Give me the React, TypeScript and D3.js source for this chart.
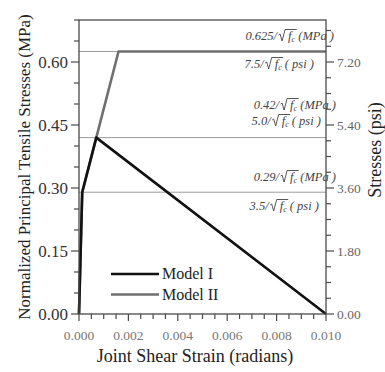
import React, { useRef, useEffect } from "react";
import * as d3 from "d3";

const strainModelI = [0, 0.00013, 0.0007, 0.01];
const stressModelI = [0, 0.29, 0.42, 0];
const strainModelII = [0, 0.00013, 0.0007, 0.0016, 0.01];
const stressModelII = [0, 0.29, 0.42, 0.625, 0.625];
const seriesNames = ["Model I", "Model II"];
const seriesColors = ["#111111", "#6f6f6f"];

const refLevels = [0.625, 0.42, 0.29];
const refMpaText = ["0.625/", "0.42/", "0.29/"];
const refPsiText = ["7.5/", "5.0/", "3.5/"];

const leftTicks = [0, 0.15, 0.3, 0.45, 0.6];
const rightTicks = [0, 1.8, 3.6, 5.4, 7.2];
const xTicks = [0, 0.002, 0.004, 0.006, 0.008, 0.01];

const W = 385;
const H = 372;

const App = () => {
  const svgRef = useRef(null);

  useEffect(() => {
    const svg = d3.select(svgRef.current);
    svg.selectAll("*").remove();

    const margin = { top: 20, right: 59, bottom: 58, left: 79 };
    const x0 = margin.left;
    const x1 = W - margin.right;
    const y0 = H - margin.bottom;
    const y1 = margin.top;

    const x = d3.scaleLinear().domain([0, 0.01]).range([x0, x1]);
    const y = d3.scaleLinear().domain([0, 0.7]).range([y0, y1]);
    const y2 = d3.scaleLinear().domain([0, 8.4]).range([y0, y1]);

    const font = "'Liberation Serif', 'Times New Roman', serif";
    const axisColor = "#4a4a4a";

    // reference lines
    refLevels.forEach((v) => {
      svg
        .append("line")
        .attr("x1", x0)
        .attr("x2", x1)
        .attr("y1", y(v))
        .attr("y2", y(v))
        .attr("stroke", "#9a9a9a")
        .attr("stroke-width", 1);
    });

    // series
    const line = d3
      .line()
      .x((d) => x(d[0]))
      .y((d) => y(d[1]));

    const seriesII = strainModelII.map((s, i) => [s, stressModelII[i]]);
    const seriesI = strainModelI.map((s, i) => [s, stressModelI[i]]);

    svg
      .append("path")
      .attr("d", line(seriesII))
      .attr("fill", "none")
      .attr("stroke", seriesColors[1])
      .attr("stroke-width", 2.6)
      .attr("stroke-linejoin", "round");

    svg
      .append("path")
      .attr("d", line(seriesI))
      .attr("fill", "none")
      .attr("stroke", seriesColors[0])
      .attr("stroke-width", 2.6)
      .attr("stroke-linejoin", "round");

    // frame
    svg
      .append("rect")
      .attr("x", x0)
      .attr("y", y1)
      .attr("width", x1 - x0)
      .attr("height", y0 - y1)
      .attr("fill", "none")
      .attr("stroke", axisColor)
      .attr("stroke-width", 1.3);

    // left axis ticks
    d3.range(0, 0.7001, 0.05).forEach((v) => {
      const major = leftTicks.some((t) => Math.abs(t - v) < 1e-6);
      svg
        .append("line")
        .attr("x1", x0)
        .attr("x2", x0 - (major ? 8 : 5))
        .attr("y1", y(v))
        .attr("y2", y(v))
        .attr("stroke", axisColor)
        .attr("stroke-width", 1.2);
    });
    leftTicks.forEach((v) => {
      svg
        .append("text")
        .attr("x", x0 - 11)
        .attr("y", y(v))
        .attr("dy", "0.34em")
        .attr("text-anchor", "end")
        .style("font-family", font)
        .style("font-size", "17px")
        .attr("fill", "#333")
        .text(v.toFixed(2));
    });

    // right axis ticks
    d3.range(0, 8.4001, 0.45).forEach((v) => {
      const major = rightTicks.some((t) => Math.abs(t - v) < 1e-6);
      svg
        .append("line")
        .attr("x1", x1)
        .attr("x2", x1 + (major ? 8 : 5))
        .attr("y1", y2(v))
        .attr("y2", y2(v))
        .attr("stroke", axisColor)
        .attr("stroke-width", 1.2);
    });
    rightTicks.forEach((v) => {
      svg
        .append("text")
        .attr("x", x1 + 11)
        .attr("y", y2(v))
        .attr("dy", "0.34em")
        .style("font-family", font)
        .style("font-size", "13.5px")
        .attr("fill", "#666")
        .text(v.toFixed(2));
    });

    // x axis ticks
    d3.range(0, 0.01001, 0.0005).forEach((v) => {
      const major = xTicks.some((t) => Math.abs(t - v) < 1e-9);
      svg
        .append("line")
        .attr("x1", x(v))
        .attr("x2", x(v))
        .attr("y1", y0)
        .attr("y2", y0 + (major ? 7 : 5))
        .attr("stroke", axisColor)
        .attr("stroke-width", 1.2);
    });
    xTicks.forEach((v) => {
      svg
        .append("text")
        .attr("x", x(v))
        .attr("y", y0 + 26)
        .attr("text-anchor", "middle")
        .style("font-family", font)
        .style("font-size", "13.5px")
        .attr("fill", "#777")
        .text(v.toFixed(3));
    });

    // axis titles
    svg
      .append("text")
      .attr("x", 195)
      .attr("y", 362)
      .attr("text-anchor", "middle")
      .style("font-family", font)
      .style("font-size", "18px")
      .attr("fill", "#222")
      .text("Joint Shear Strain (radians)");

    svg
      .append("text")
      .attr("transform", `translate(30,${(y0 + y1) / 2}) rotate(-90)`)
      .attr("text-anchor", "middle")
      .style("font-family", font)
      .style("font-size", "17px")
      .attr("fill", "#222")
      .text("Normalized Principal Tensile Stresses (MPa)");

    svg
      .append("text")
      .attr("transform", `translate(381,150) rotate(-90)`)
      .attr("text-anchor", "middle")
      .style("font-family", font)
      .style("font-size", "18px")
      .attr("fill", "#222")
      .text("Stresses (psi)");

    // annotations with radical sign
    const annot = (prefix, unit, rightX, baseY) => {
      const g = svg.append("g");
      const t = g
        .append("text")
        .attr("y", baseY)
        .style("font-family", font)
        .style("font-style", "italic")
        .style("font-size", "12.5px")
        .attr("fill", "#444");
      t.append("tspan").text(prefix);
      t.append("tspan").attr("dx", 11).text("f");
      t.append("tspan")
        .attr("dy", 2)
        .style("font-size", "8px")
        .text("c");
      t.append("tspan").attr("dy", -2).text(" " + unit);
      const node = t.node();
      const w = node.getComputedTextLength();
      t.attr("x", rightX - w);
      const n = prefix.length;
      const fStart = node.getStartPositionOfChar(n).x;
      const cEnd = node.getEndPositionOfChar(n + 1).x;
      const rx = fStart - 9.5;
      g.append("path")
        .attr(
          "d",
          `M${rx},${baseY - 5} L${rx + 1.5},${baseY - 6} L${rx + 3.5},${baseY + 1} L${rx + 6.5},${baseY - 10.5} L${cEnd + 1.5},${baseY - 10.5}`
        )
        .attr("fill", "none")
        .attr("stroke", "#444")
        .attr("stroke-width", 0.9);
    };

    const mpaBase = [40, 109, 181];
    const psiBase = [68, 125, 210];
    const mpaRight = [323, 325, 325];
    const psiRight = [303, 310, 308];
    refLevels.forEach((v, i) => {
      annot(refMpaText[i], "(MPa )", mpaRight[i], mpaBase[i]);
      annot(refPsiText[i], "( psi )", psiRight[i], psiBase[i]);
    });

    // legend
    seriesNames.forEach((name, i) => {
      const ly = 274 + i * 20.5;
      svg
        .append("line")
        .attr("x1", 111)
        .attr("x2", 159)
        .attr("y1", ly)
        .attr("y2", ly)
        .attr("stroke", seriesColors[i])
        .attr("stroke-width", 2.6);
      svg
        .append("text")
        .attr("x", 162)
        .attr("y", ly)
        .attr("dy", "0.33em")
        .style("font-family", font)
        .style("font-size", "16px")
        .attr("fill", "#222")
        .text(name);
    });
  }, []);

  return (
    <svg
      ref={svgRef}
      width={W}
      height={H}
      style={{ position: "absolute", left: 0, top: 0, background: "#fff" }}
    ></svg>
  );
};

export default App;
